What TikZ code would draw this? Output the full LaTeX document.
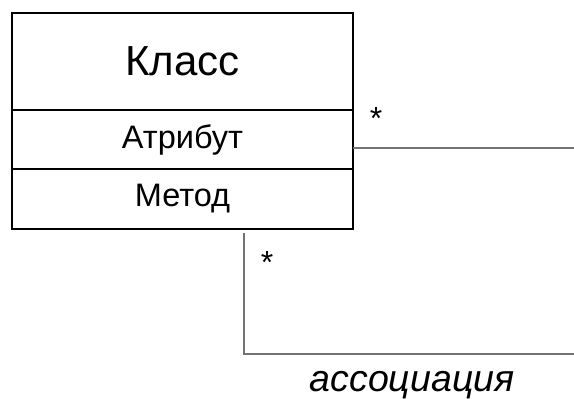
\documentclass[tikz,border=0pt]{standalone}
\usepackage{fontspec}
\setmainfont{Liberation Sans}
\usetikzlibrary{positioning,calc}
\tikzset{
  classpart/.style={draw=black,line width=2pt,minimum width=341pt,inner sep=0pt,outer sep=0pt,anchor=north},
  assocline/.style={draw=black!55,line width=1.2pt},
  multlabel/.style={font=\fontsize{32}{32}\selectfont,inner sep=0pt}
}
\begin{document}
\begin{tikzpicture}[x=1pt,y=-1pt]
        \newcommand{\classboxleft}{12}
        \newcommand{\classboxtop}{13}
        \newcommand{\classboxwidth}{341}
        \newcommand{\assocrightend}{574}
        \newcommand{\assoclineay}{148}
        \newcommand{\assoclinebx}{244}
        \newcommand{\assoclineby}{354}
        \useasboundingbox (0,0) rectangle (574,399);
        \node[classpart,minimum height=97pt,font=\fontsize{42}{42}\selectfont] (klass) at (\classboxleft+0.5*\classboxwidth,\classboxtop) {Класс};
        \node[classpart,minimum height=59pt,font=\fontsize{32.5}{32.5}\selectfont] (attr) at (klass.south) {Атрибут};
        \node[classpart,minimum height=60pt,font=\fontsize{32.5}{32.5}\selectfont] (meth) at (attr.south) {Метод};
        \coordinate (assocaend) at (\assocrightend,\assoclineay);
        \coordinate (assoccorner) at (\assoclinebx,\assoclineby);
        \coordinate (assocbend) at (\assocrightend,\assoclineby);
        \draw[assocline] (klass.east |- assocaend) -- (assocaend);
        \draw[assocline] ([yshift=-4pt]meth.south -| assoccorner) -- (assoccorner) -- (assocbend);
        \node[multlabel] (multa) at (376,118) {*};
        \node[multlabel] (multb) at (267,262) {*};
        \node[font=\fontsize{37.5}{37.5}\selectfont\itshape,inner sep=0pt] (assocname) at (412,385) {ассоциация};
\end{tikzpicture}
\end{document}
